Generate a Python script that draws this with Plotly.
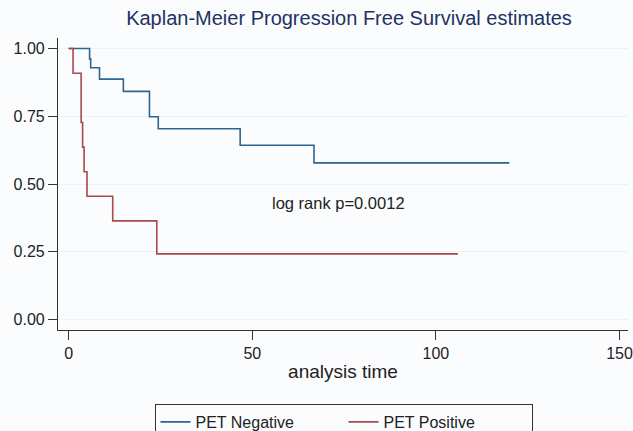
import plotly.graph_objects as go

# Kaplan-Meier step data
neg_time = [0, 5.7, 6.0, 8.4, 14.9, 22.0, 24.4, 46.7, 66.8, 120]
neg_surv = [1.0, 0.962, 0.929, 0.887, 0.842, 0.748, 0.704, 0.643, 0.578, 0.578]

pos_time = [0, 1.2, 3.4, 3.8, 4.2, 5.0, 12.0, 24.0, 106]
pos_surv = [1.0, 0.909, 0.727, 0.636, 0.545, 0.455, 0.364, 0.242, 0.242]

x_ticks = [0, 50, 100, 150]
y_ticks = [0.0, 0.25, 0.50, 0.75, 1.00]
y_tick_text = ["0.00", "0.25", "0.50", "0.75", "1.00"]

title_text = "Kaplan-Meier Progression Free Survival estimates"
x_title = "analysis time"
note_text = "log rank p=0.0012"
note_x, note_y = 73.6, 0.43

BLUE = "#2f6690"
RED = "#a94a4a"
BG = "#fbfcfd"
FONT = "Liberation Sans, Arial, sans-serif"

fig = go.Figure()
fig.add_trace(go.Scatter(x=neg_time, y=neg_surv, mode="lines", line_shape="hv",
                         line=dict(color=BLUE, width=1.6), name="PET Negative"))
fig.add_trace(go.Scatter(x=pos_time, y=pos_surv, mode="lines", line_shape="hv",
                         line=dict(color=RED, width=1.6), name="PET Positive"))

fig.add_annotation(x=note_x, y=note_y, text=note_text, showarrow=False,
                   font=dict(family=FONT, size=16.5, color="#222222"))

fig.update_layout(
    width=633, height=431,
    margin=dict(l=58, r=5, t=38, b=101, autoexpand=False),
    paper_bgcolor=BG, plot_bgcolor=BG,
    font=dict(family=FONT, size=16, color="#222222"),
    title=dict(text=title_text, x=349 / 633, xanchor="center", y=1 - 18 / 431,
               yanchor="middle", font=dict(family=FONT, size=20, color="#1e3264")),
    showlegend=True,
    legend=dict(orientation="h", xref="container", yref="container",
                x=343.5 / 633, xanchor="center", y=1 - 404 / 431, yanchor="top",
                bordercolor="#333333", borderwidth=1, bgcolor=BG,
                font=dict(family=FONT, size=16, color="#222222"),
                entrywidth=143, entrywidthmode="pixels"),
    xaxis=dict(range=[-2.9, 152.3], tickvals=x_ticks, ticks="outside", ticklen=9,
               tickcolor="#333333", showline=True, linecolor="#333333", linewidth=1.2,
               showgrid=False, zeroline=False, automargin=False,
               title=dict(text=x_title, standoff=3), tickfont=dict(size=16)),
    yaxis=dict(range=[-0.039, 1.039], tickvals=y_ticks, ticktext=y_tick_text,
               ticks="outside", ticklen=9, tickcolor="#333333", showline=True,
               linecolor="#333333", linewidth=1.2, showgrid=True, gridcolor="#edf2f4",
               gridwidth=1, zeroline=False, automargin=False, tickfont=dict(size=16)),
)

fig.write_html("out.html", config={"displayModeBar": False},
               post_script="document.body.style.margin='0';document.body.style.background='%s';" % BG)
